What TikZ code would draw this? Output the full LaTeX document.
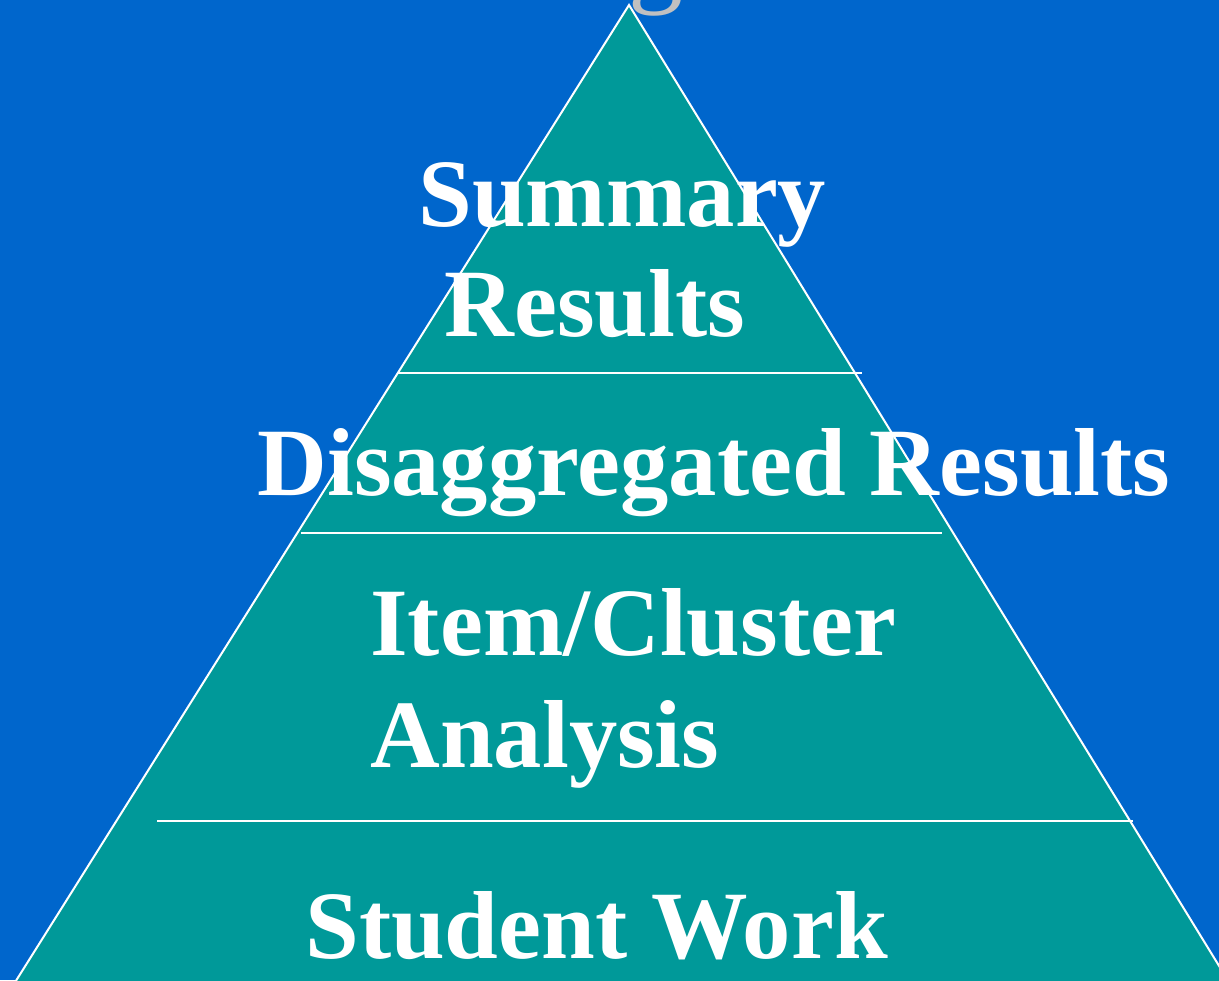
\documentclass[tikz,border=0pt]{standalone}
\usepackage{fontspec}
\setmainfont{Liberation Serif}
\usepackage{tikz}
\usetikzlibrary{positioning}

\definecolor{fondo}{HTML}{0066CC}
\definecolor{piramide}{HTML}{009999}
\definecolor{titulo}{HTML}{C0C0C0}

\begin{document}
\begin{tikzpicture}[x=0.5pt, y=-0.5pt,
    nivel/.style={text=white, inner sep=0pt, anchor=base west,
                  font=\fontsize{48.3pt}{55pt}\selectfont\bfseries},
    raya/.style={draw=white, line width=1pt}]
              % Fondo
              \clip (0,0) rectangle (1219,980);
              \fill[fondo] (0,0) rectangle (1219,980);
              \node[text=titulo, inner sep=0pt, anchor=base west,
                    font=\fontsize{55pt}{60pt}\selectfont] (g) at (628,-8) {g};

              % Piramide
              \coordinate (cima) at (629,5);
              \coordinate (izq) at (3.9,1000);
              \coordinate (der) at (1240,1000);
              \filldraw[fill=piramide, raya] (izq) -- (cima) -- (der);
              \draw[raya] (398,373) -- (862,373);
              \draw[raya] (301,533) -- (942,533);
              \draw[raya] (157,821) -- (1133,821);

              % Niveles
              \node[nivel] (s1) at (418,226) {Summary};
              \node[nivel] (s2) at (444,336) {Results};
              \node[nivel] (d) at (257,495) {Disaggregated Results};
              \node[nivel] (i1) at (370,655) {Item/Cluster};
              \node[nivel] (i2) at (370,767) {Analysis};
              \node[nivel] (w) at (305,958) {Student Work};
\end{tikzpicture}
\end{document}
